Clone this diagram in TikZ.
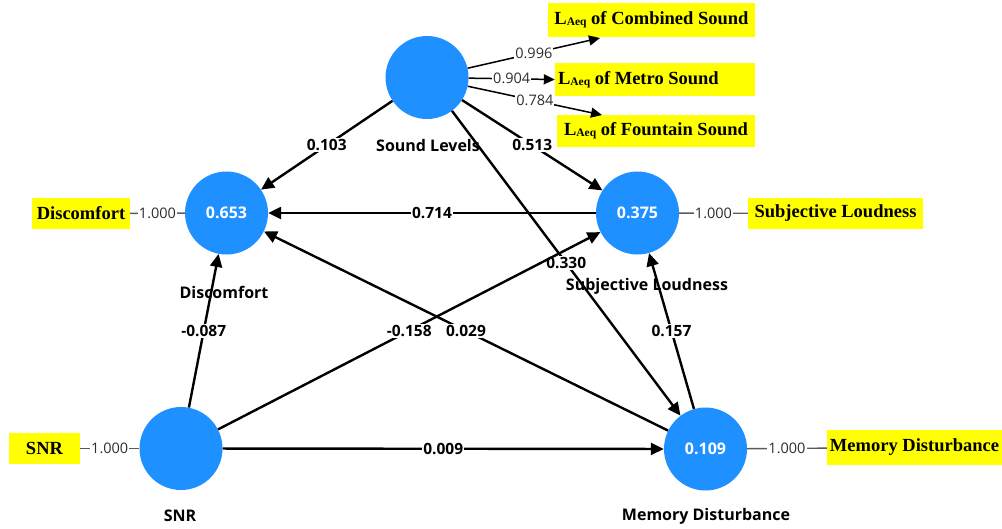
\documentclass[tikz,border=0pt]{standalone}
\usepackage{fontspec}
\setmainfont{Liberation Serif}
\newfontfamily\uisans{Open Sans}
\usetikzlibrary{arrows.meta}
\definecolor{lvblue}{RGB}{30,144,255}
\definecolor{boxyellow}{RGB}{255,255,0}
\definecolor{loadgray}{RGB}{90,90,90}
\definecolor{valgray}{RGB}{45,45,45}
% indicator name with small A-weighted subscript
\newcommand{\LAeqText}{L\raisebox{-1pt}{\fontsize{11.5}{11.5}\selectfont Aeq}}
\begin{document}
\begin{tikzpicture}[x=1pt,y=-1pt,
  construct/.style={circle, fill=lvblue, minimum size=83pt, inner sep=0pt,
    text=white, font=\uisans\bfseries\fontsize{16}{17}\selectfont},
  cname/.style={inner sep=0pt, font=\uisans\bfseries\fontsize{16}{17}\selectfont},
  ybox/.style={fill=boxyellow, inner sep=0pt, font=\bfseries\fontsize{18.5}{20}\selectfont},
  effect/.style={line width=2.4pt, -{Triangle[length=13pt,width=12pt]}},
  coef/.style={fill=white, inner sep=1.2pt, text=black,
    font=\uisans\bfseries\fontsize{15.5}{16}\selectfont},
  indarrow/.style={line width=1.5pt, -{Triangle[length=11pt,width=10pt]}},
  loadline/.style={line width=1.4pt, draw=loadgray},
  loadval/.style={fill=white, inner sep=1pt, text=valgray,
    font=\uisans\fontsize{14.5}{15}\selectfont}
]
\useasboundingbox (0,0) rectangle (1002,528);

% constructs
\node[construct] (SLv) at (427,77.5) {};
\node[construct] (DC)  at (226.5,213) {0.653};
\node[construct] (SL)  at (637.5,213) {0.375};
\node[construct] (SNR) at (181,448.5) {};
\node[construct] (MD)  at (705.5,449) {0.109};

% construct names
\node[cname] (nSLv) at (428,145) {Sound Levels};
\node[cname] (nDC)  at (224,292) {Discomfort};
\node[cname] (nSL)  at (647,286) {Subjective Loudness};
\node[cname] (nSNR) at (180,516) {SNR};
\node[cname] (nMD)  at (706,516) {Memory Disturbance};

% indicator boxes
\node[ybox, minimum width=207, minimum height=34] (comb) at (651.5,20) {\LAeqText{} of Combined Sound};
\node[ybox, minimum width=200, minimum height=33] (metro) at (655,79.5) {\makebox[194pt][l]{\LAeqText{} of Metro Sound}};
\node[ybox, minimum width=198, minimum height=32] (fount) at (656,131) {\LAeqText{} of Fountain Sound};
\node[ybox, minimum width=98, minimum height=31] (bDC) at (81,213.5) {Discomfort};
\node[ybox, minimum width=175, minimum height=31] (bSL) at (835.5,213.5) {Subjective Loudness};
\node[ybox, minimum width=71, minimum height=31] (bSNR) at (44.5,448.5) {SNR};
\node[ybox, minimum width=175, minimum height=35] (bMD) at (914.5,447.5) {Memory Disturbance};

% arrow tips at the indicator boxes
\coordinate (tipC) at (600,38);
\coordinate (tipF) at (602,115);

% outer loadings
\draw[indarrow] (SLv) -- node[loadval] {0.996} (tipC);
\draw[indarrow] (SLv) -- node[loadval] {0.904} (metro.west);
\draw[indarrow] (SLv) -- node[loadval] {0.784} (tipF);
\draw[loadline] (bDC) -- node[loadval] {1.000} (DC);
\draw[loadline] (SL) -- node[loadval] {1.000} (bSL);
\draw[loadline] (bSNR) -- node[loadval] {1.000} (SNR);
\draw[loadline] (MD) -- node[loadval] {1.000} (bMD);

% structural paths
\draw[effect] (SLv) -- node[coef] {0.103} (DC);
\draw[effect] (SLv) -- node[coef] {0.513} (SL);
\draw[effect] (SLv) -- node[coef] {0.330} (MD);
\draw[effect] (SL)  -- node[coef] {0.714} (DC);
\draw[effect] (SNR) -- node[coef] {-0.087} (DC);
\draw[effect] (SNR) -- node[coef] {-0.158} (SL);
\draw[effect] (SNR) -- node[coef] {0.009} (MD);
\draw[effect] (MD)  -- node[coef] {0.029} (DC);
\draw[effect] (MD)  -- node[coef] {0.157} (SL);
\end{tikzpicture}
\end{document}
